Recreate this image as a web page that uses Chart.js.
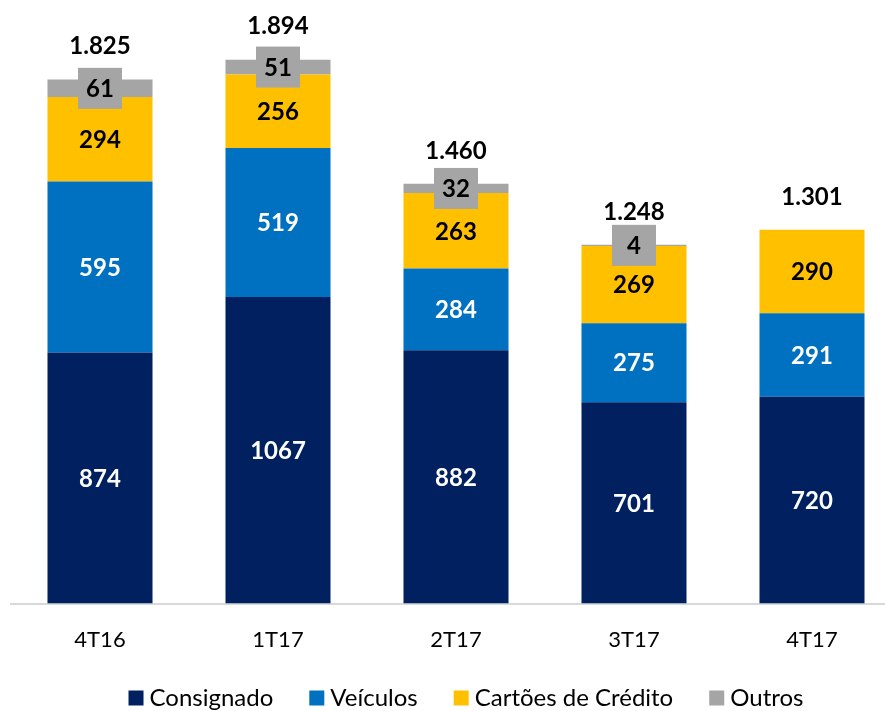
<!DOCTYPE html>
<html><head><meta charset="utf-8">
<script src="https://cdn.jsdelivr.net/npm/chart.js@4/dist/chart.umd.min.js"></script>
<style>
html,body{margin:0;padding:0;background:#fff;overflow:hidden;width:885px;height:711px}
#wrap{position:absolute;left:0;top:0;width:902px;height:711px}
</style></head>
<body><div id="wrap"><canvas id="c"></canvas></div>
<script>
const categories = ['4T16','1T17','2T17','3T17','4T17'];
const consignado = [874,1067,882,701,720];
const veiculos = [595,519,284,275,291];
const cartoes = [294,256,263,269,290];
const outros = [61,51,32,4,0];
const totals = ['1.825','1.894','1.460','1.248','1.301'];
const totalValues = [1825,1894,1460,1248,1301];
const seriesNames = ['Consignado','Veículos','Cartões de Crédito','Outros'];

const FONT = 'Lato, "Open Sans", sans-serif';

const labelPlugin = {
  id:'labels',
  afterDatasetsDraw(chart){
    const ctx = chart.ctx;
    ctx.save();
    ctx.textAlign='center';
    ctx.textBaseline='middle';
    chart.data.datasets.forEach((ds,di)=>{
      const meta = chart.getDatasetMeta(di);
      meta.data.forEach((el,i)=>{
        const v = ds.data[i];
        if(!v) return;
        const cy = (el.y + el.base)/2;
        ctx.font = 'bold 24px ' + FONT;
        if(di===3){
          const tw = 44, th = 41;
          ctx.fillStyle='#A5A5A5';
          ctx.fillRect(el.x - tw/2, cy - th/2, tw, th);
          ctx.fillStyle='#000';
        } else if(di===2){
          ctx.fillStyle='#000';
        } else {
          ctx.fillStyle='#fff';
        }
        ctx.fillText(String(v), el.x, cy+1);
      });
    });
    const y = chart.scales.y;
    const m0 = chart.getDatasetMeta(0);
    ctx.font = 'bold 24px ' + FONT;
    ctx.fillStyle='#000';
    m0.data.forEach((el,i)=>{
      const top = y.getPixelForValue(totalValues[i]);
      ctx.fillText(totals[i], el.x, top - 33);
    });
    ctx.restore();
  }
};

const legendPlugin = {
  id:'customLegend',
  afterDraw(chart){
    const ctx = chart.ctx;
    ctx.save();
    ctx.font = '24px ' + FONT;
    ctx.textBaseline='middle';
    ctx.textAlign='left';
    const box = 15, gapText = 6, gapItem = 36, cy = 698;
    const items = chart.data.datasets.map(d=>({t:d.label,c:d.backgroundColor,w:ctx.measureText(d.label).width}));
    let total = items.reduce((s,it)=>s+box+gapText+it.w,0) + gapItem*(items.length-1);
    let x = 466 - total/2;
    items.forEach(it=>{
      ctx.fillStyle=it.c;
      ctx.fillRect(x, cy-box/2, box, box);
      ctx.fillStyle='#000';
      ctx.fillText(it.t, x+box+gapText, cy);
      x += box+gapText+it.w+gapItem;
    });
    ctx.restore();
  }
};

new Chart(document.getElementById('c'),{
  type:'bar',
  data:{
    labels:categories,
    datasets:[
      {label:seriesNames[0],data:consignado,backgroundColor:'#002060'},
      {label:seriesNames[1],data:veiculos,backgroundColor:'#0070C0'},
      {label:seriesNames[2],data:cartoes,backgroundColor:'#FFC000'},
      {label:seriesNames[3],data:outros,backgroundColor:'#A5A5A5'}
    ]
  },
  options:{
    responsive:true,
    maintainAspectRatio:false,
    animation:false,
    layout:{padding:{top:29,left:11,right:1,bottom:35}},
    datasets:{bar:{barPercentage:0.59,categoryPercentage:1}},
    scales:{
      x:{stacked:true,grid:{display:false,drawTicks:false},border:{color:'#D9D9D9',width:2},
         ticks:{color:'#000',font:{family:FONT,size:22},padding:23}},
      y:{stacked:true,min:0,max:2000,display:false}
    },
    plugins:{
      legend:{display:false},
      tooltip:{enabled:false}
    }
  },
  plugins:[labelPlugin, legendPlugin]
});
</script></body></html>
